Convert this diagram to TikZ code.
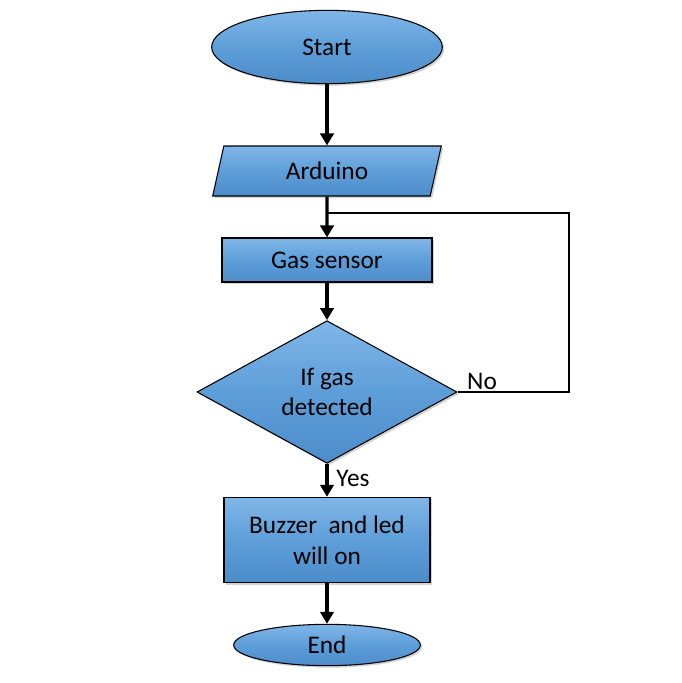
\documentclass[tikz,border=0pt]{standalone}
\usepackage{fontspec}
\setmainfont{Carlito}
\usetikzlibrary{shapes.geometric,arrows.meta,shadows}
\definecolor{blockblue}{RGB}{94,158,216}
\definecolor{blocklight}{RGB}{128,182,232}
\definecolor{blockdark}{RGB}{76,140,202}

\begin{document}
\begin{tikzpicture}[x=0.75pt,y=-0.75pt,
		block/.style={draw=black,line width=0.8pt,top color=blocklight,bottom color=blockdark,middle color=blockblue,inner sep=0pt,align=center,font=\fontsize{19pt}{23pt}\selectfont,drop shadow={opacity=0.35,shadow xshift=1.5pt,shadow yshift=-1.5pt}},
		terminal/.style={block,ellipse},
		io/.style={block,trapezium,trapezium left angle=76,trapezium right angle=104,trapezium stretches=true},
		process/.style={block,rectangle},
		decision/.style={block,diamond,shape aspect=1.8},
		lbl/.style={font=\fontsize{19pt}{23pt}\selectfont,inner sep=0pt},
		flow/.style={line width=2.6pt,-{Triangle[length=9pt,width=10pt]}},
		backline/.style={line width=1.8pt}]
		\useasboundingbox (0,0) rectangle (682,683);
		\node [terminal,minimum width=173pt,minimum height=55pt] (start) at (327,47) {Start};
		\node [io,minimum width=172pt,minimum height=37.5pt] (ard) at (327,171) {Arduino};
		\node [process,minimum width=157.5pt,minimum height=33pt] (gas) at (327,260) {Gas sensor};
		\node [decision,minimum width=195pt,minimum height=107pt] (dec) at (327,392) {If gas\\detected};
		\node [process,minimum width=154.5pt,minimum height=64pt] (buzz) at (327,540) {Buzzer\ \ and led\\will on};
		\node [terminal,minimum width=140pt,minimum height=31pt] (stop) at (327,645) {End};
		\node [lbl] (no) at (482,381) {No};
		\node [lbl] (yes) at (353,478) {Yes};
		\foreach \a/\b in {start/ard,ard/gas,gas/dec,dec/buzz,buzz/stop} {
			\draw [flow] (\a) -- (\b);
		}
		\coordinate (join) at (327,213);
		\coordinate (turn) at (569,213);
		\draw [backline] (dec.east) -| (turn) -- (join);
	\end{tikzpicture}
\end{document}
